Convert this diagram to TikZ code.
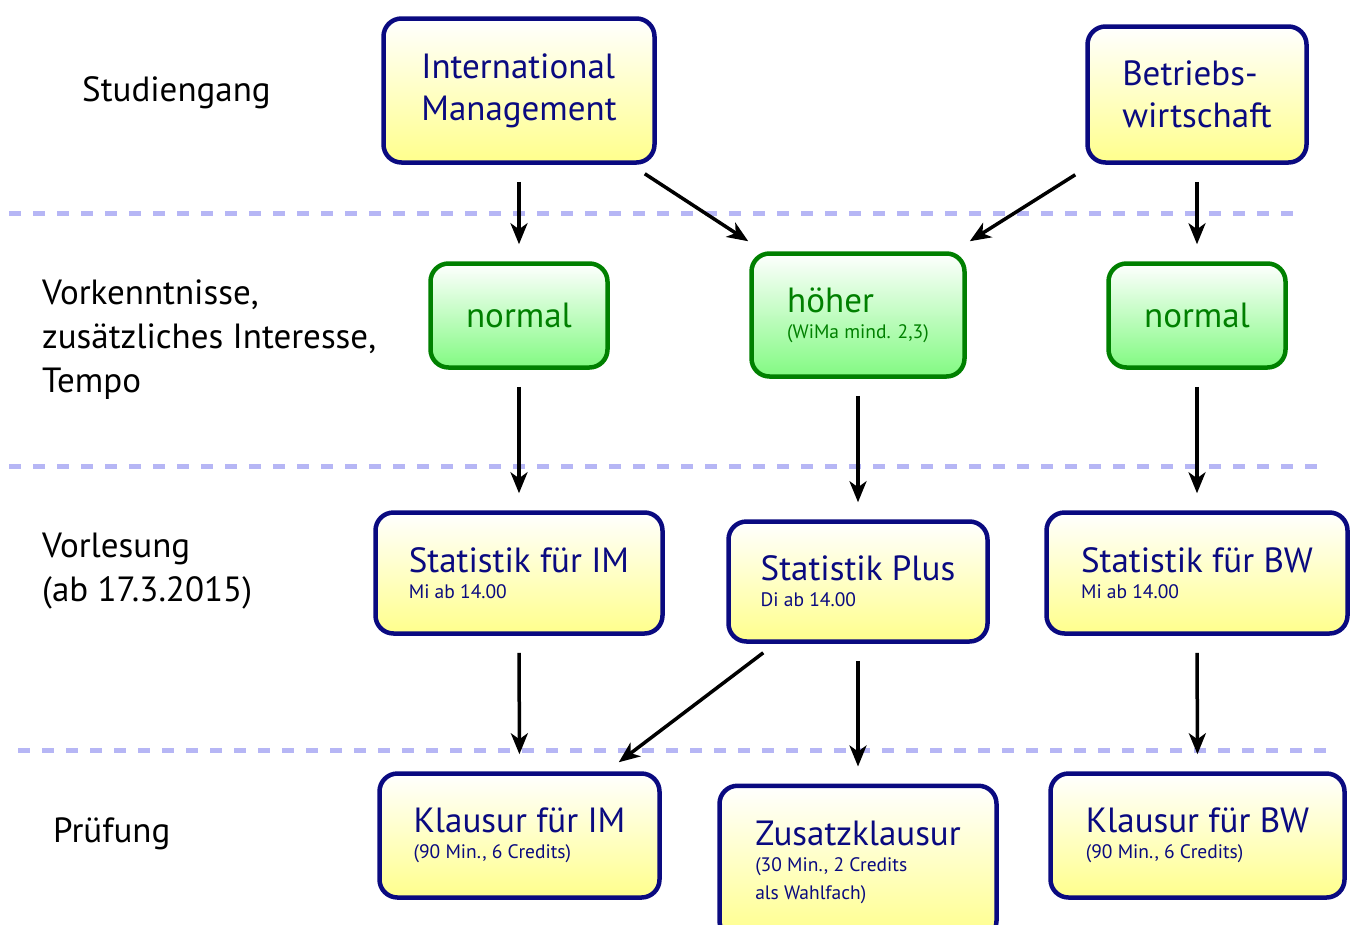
\documentclass[tikz,border=0pt]{standalone}
\usepackage{fontspec}
\setmainfont{PT Sans}
\usetikzlibrary{arrows.meta}
\definecolor{navy}{RGB}{10,10,128}
\definecolor{dgreen}{RGB}{0,128,0}
\definecolor{yfill}{RGB}{255,255,140}
\definecolor{gfill}{RGB}{130,250,130}
\definecolor{sepc}{RGB}{182,182,245}
\tikzset{
  ybox/.style={draw=navy, line width=4.5pt, rounded corners=18pt, top color=white, bottom color=yfill, text=navy, align=left, inner sep=0pt},
  gbox/.style={draw=dgreen, line width=4.5pt, rounded corners=18pt, top color=white, bottom color=gfill, text=dgreen, align=left, inner sep=0pt},
  arr/.style={line width=3.5pt, -{Stealth[length=21pt,width=17pt,inset=6pt]}, shorten <=17pt, shorten >=17pt},
  sep/.style={sepc, line width=5pt, dash pattern=on 12pt off 12pt},
  lab/.style={anchor=west, align=left, inner sep=0pt, font=\fontsize{35}{44}\selectfont},
  big/.style={font=\fontsize{35}{42}\selectfont},
  two/.style={font=\fontsize{19.5}{26}\selectfont},
}
\newcommand{\ttlx}[1]{{\fontsize{35}{42}\selectfont #1}}
\begin{document}
\begin{tikzpicture}[x=1pt,y=-1pt]
\useasboundingbox (0,0) rectangle (1354,924);
% separators
\draw[sep] (9,213) -- (1300,213);
\draw[sep] (9,466) -- (1320,466);
\draw[sep] (18,750) -- (1330,750);
% labels
\node[lab] (l1) at (82,93) {Studiengang};
\node[lab] (l2) at (42,340) {Vorkenntnisse,\\zusätzliches Interesse,\\Tempo};
\node[lab] (l3) at (42,571) {Vorlesung\\(ab 17.3.2015)};
\node[lab] (l4) at (53,834) {Prüfung};
% boxes
\node[ybox, big, minimum width=271pt, minimum height=144pt] (im) at (519,90.5) {International\\Management};
\node[ybox, big, minimum width=219pt, minimum height=136pt] (bw) at (1197,94.5) {Betriebs-\\wirtschaft};
\node[gbox, big, minimum width=177pt, minimum height=104pt] (nl) at (519,315.5) {normal};
\node[gbox, two, minimum width=213pt, minimum height=123pt] (ho) at (858,315) {\ttlx{höher}\\(WiMa mind. 2,3)};
\node[gbox, big, minimum width=177pt, minimum height=104pt] (nr) at (1197,315.5) {normal};
\node[ybox, two, minimum width=287pt, minimum height=121pt] (sim) at (519,573) {\ttlx{Statistik für IM}\\Mi ab 14.00};
\node[ybox, two, minimum width=259pt, minimum height=120pt] (sp) at (858,581.5) {\ttlx{Statistik Plus}\\Di ab 14.00};
\node[ybox, two, minimum width=301pt, minimum height=121pt] (sbw) at (1197,573) {\ttlx{Statistik für BW}\\Mi ab 14.00};
\node[ybox, two, minimum width=280pt, minimum height=124pt] (kim) at (519.5,835.5) {\ttlx{Klausur für IM}\\(90 Min., 6 Credits)};
\node[ybox, two, minimum width=277pt, minimum height=153pt, anchor=north] (zk) at (858,783.5) {\ttlx{Zusatzklausur}\\(30 Min., 2 Credits\\[2pt]als Wahlfach)};
\node[ybox, two, minimum width=294pt, minimum height=124pt] (kbw) at (1197.5,835.5) {\ttlx{Klausur für BW}\\(90 Min., 6 Credits)};
% arrows
\draw[arr] (im.south) -- (nl.north);
\draw[arr, shorten <=0pt, shorten >=0pt] ([xshift=-12pt,yshift=-9pt]im.south east) -- ([xshift=-1pt,yshift=10pt]ho.north west);
\draw[arr, shorten <=0pt, shorten >=0pt] ([xshift=-10pt,yshift=-10pt]bw.south west) -- ([xshift=3pt,yshift=10pt]ho.north east);
\draw[arr] (bw.south) -- (nr.north);
\draw[arr] (nl.south) -- (sim.north);
\draw[arr] (ho.south) -- (sp.north);
\draw[arr] (nr.south) -- (sbw.north);
\draw[arr] (sim.south) -- (kim.north);
\draw[arr, shorten <=0pt, shorten >=0pt] ([xshift=37pt,yshift=-9pt]sp.south west) -- ([xshift=-43pt,yshift=9pt]kim.north east);
\draw[arr] (sp.south) -- (zk.north);
\draw[arr] (sbw.south) -- (kbw.north);
\end{tikzpicture}
\end{document}
